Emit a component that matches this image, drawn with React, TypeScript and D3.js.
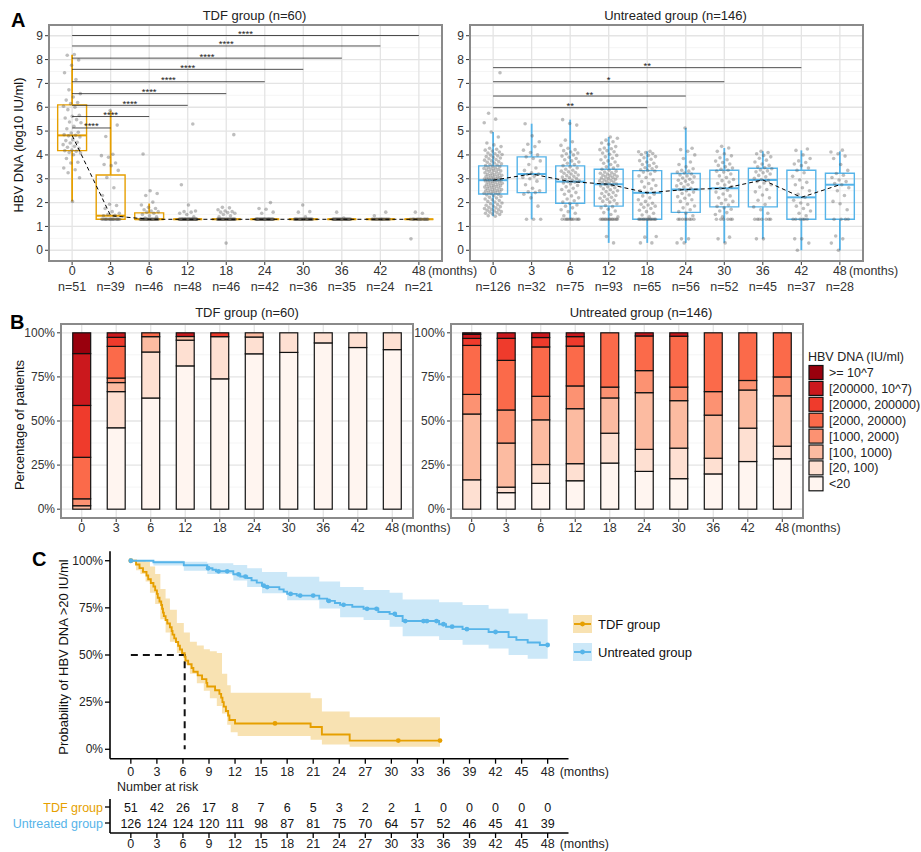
import React, { useEffect, useRef } from 'react'
import * as d3 from 'd3'

const FONT = '"Liberation Sans", Arial, Helvetica, sans-serif'
const ORANGE = '#E69F00'
const BLUE = '#56B4E9'
const ORANGE_FILL = '#F8E2B2'
const BLUE_FILL = '#CCE8F8'

// ---------- panel A: HBV DNA by visit ----------
const visits = ['0', '3', '6', '12', '18', '24', '30', '36', '42', '48']
const tdfN = [51, 39, 46, 48, 46, 42, 36, 35, 24, 21]
const untN = [126, 32, 75, 93, 65, 56, 52, 45, 37, 28]

// box stats (log10 IU/ml)
const tdfQ1 = [4.18, 1.3, 1.3, 1.3, 1.3, 1.3, 1.3, 1.3, 1.3, 1.3]
const tdfMed = [4.82, 1.45, 1.3, 1.3, 1.3, 1.3, 1.3, 1.3, 1.3, 1.3]
const tdfQ3 = [6.1, 3.16, 1.57, 1.3, 1.3, 1.3, 1.3, 1.3, 1.3, 1.3]
const tdfLo = [2.05, 1.3, 1.3, 1.3, 1.3, 1.3, 1.3, 1.3, 1.3, 1.3]
const tdfHi = [8.2, 5.86, 1.96, 1.3, 1.3, 1.3, 1.3, 1.3, 1.3, 1.3]

const untQ1 = [2.36, 2.42, 1.97, 1.85, 1.3, 1.59, 1.82, 1.82, 1.3, 1.3]
const untMed = [2.94, 3.2, 2.88, 2.77, 2.41, 2.55, 2.6, 2.95, 2.22, 2.75]
const untQ3 = [3.54, 3.92, 3.54, 3.4, 3.34, 3.22, 3.36, 3.44, 3.36, 3.23]
const untLo = [1.43, 1.3, 1.3, 0.31, 0.31, 0.31, 0.31, 0.48, 0, 0]
const untHi = [4.96, 5.31, 5.48, 4.75, 4.15, 5.13, 4.29, 4.15, 4.19, 4.15]

// patients sitting at the detection limit (<20 IU/ml plotted at 1.3)
const tdfAtLimit = [0, 18, 29, 39, 33, 37, 32, 33, 22, 18]
const untAtLimit = [0, 3, 11, 13, 13, 8, 6, 7, 6, 4]

// remaining individual values
const tdfValues = [
  [8.21, 8.18, 7.98, 7.76, 7.45, 7.16, 6.73, 6.57, 6.43, 6.3, 6.2, 6.15, 6.04, 6.0, 5.9, 5.66, 5.62, 5.55, 5.48, 5.38, 5.35,
    5.2, 5.1, 4.95, 4.92, 4.85, 4.82, 4.8, 4.75, 4.64, 4.6, 4.53, 4.5, 4.43, 4.36, 4.32,
    4.28, 4.2, 4.18, 4.15, 4.1, 4.08, 4.01, 3.85, 3.69, 3.66, 3.45, 3.38, 3.25, 3.04, 2.05],
  [1.45, 1.47, 1.5, 1.55, 1.62, 1.75, 1.88, 1.93, 2.3, 2.62, 3.05, 3.35, 3.55, 3.6, 3.66, 3.9, 3.97, 4.03, 4.77, 5.25, 5.86],
  [1.35, 1.4, 1.45, 1.5, 1.55, 1.6, 1.62, 1.65, 1.7, 1.75, 1.8, 1.9, 2.02, 2.3, 2.38, 2.5, 4.04],
  [1.4, 1.5, 1.55, 1.6, 1.62, 1.65, 1.9, 2.75, 5.3],
  [0.3, 1.4, 1.45, 1.5, 1.55, 1.58, 1.6, 1.62, 1.65, 1.7, 1.78, 1.8, 4.85],
  [1.55, 1.6, 1.72, 1.75, 2.0],
  [1.4, 1.6, 1.62, 1.9],
  [1.35, 1.6],
  [1.45, 1.6],
  [0.48, 1.55, 1.6],
]

const untValues = [
  [1.43, 1.45, 1.5, 1.52, 1.55, 1.58, 1.6, 1.62, 1.65, 1.68, 1.7, 1.72, 1.75, 1.78, 1.8, 1.83, 1.86, 1.89, 1.92, 1.95, 1.98,
    2.02, 2.05, 2.09, 2.12, 2.15, 2.19, 2.22, 2.26, 2.29, 2.32, 2.35, 2.37, 2.39, 2.41, 2.43, 2.45, 2.47, 2.49, 2.51, 2.53,
    2.55, 2.57, 2.59, 2.61, 2.63, 2.65, 2.67, 2.69, 2.71, 2.73, 2.75, 2.77, 2.79, 2.81, 2.83, 2.85, 2.87, 2.89, 2.91, 2.93,
    2.94, 2.95, 2.96, 2.97, 2.98, 2.99, 2.99, 3.01, 3.03, 3.05, 3.07, 3.09, 3.11, 3.13, 3.15, 3.17, 3.19, 3.21, 3.23, 3.25,
    3.28, 3.31, 3.33, 3.35, 3.37, 3.39, 3.41, 3.43, 3.45, 3.47, 3.5, 3.52, 3.55, 3.58, 3.6, 3.63, 3.66, 3.69, 3.72, 3.75,
    3.78, 3.81, 3.84, 3.87, 3.9, 3.93, 3.96, 3.99, 4.02, 4.05, 4.08, 4.12, 4.16, 4.2, 4.24, 4.28, 4.35, 4.42, 4.5, 4.75,
    4.96, 5.35, 5.5, 5.75, 7.45],
  [1.85, 2.2, 2.35, 2.42, 2.45, 2.5, 2.6, 2.75, 2.9, 3.0, 3.05, 3.1, 3.18, 3.2, 3.25, 3.35, 3.45, 3.6, 3.75, 3.85, 3.92,
    4.0, 4.1, 4.2, 4.35, 4.45, 4.55, 4.8, 5.31],
  [1.45, 1.55, 1.62, 1.7, 1.78, 1.85, 1.9, 1.96, 2.02, 2.08, 2.15, 2.2, 2.28, 2.35, 2.42, 2.48, 2.55, 2.6, 2.66, 2.72,
    2.78, 2.82, 2.86, 2.88, 2.91, 2.94, 2.97, 3.01, 3.04, 3.07, 3.1, 3.13, 3.16, 3.2, 3.23, 3.26, 3.29, 3.32, 3.36, 3.4,
    3.45, 3.5, 3.55, 3.6, 3.65, 3.7, 3.75, 3.8, 3.85, 3.9, 3.95, 4.0, 4.05, 4.08, 4.12, 4.18, 4.22, 4.28, 4.4, 4.55, 4.62,
    5.25, 5.32, 5.48],
  [0.31, 0.58, 1.4, 1.5, 1.58, 1.65, 1.72, 1.78, 1.83, 1.88, 1.95, 2.02, 2.06, 2.1, 2.14, 2.18, 2.22, 2.26, 2.3, 2.34,
    2.38, 2.42, 2.46, 2.5, 2.54, 2.58, 2.62, 2.66, 2.7, 2.73, 2.76, 2.78, 2.8, 2.83, 2.86, 2.89, 2.91, 2.93, 2.95, 2.98,
    3.01, 3.03, 3.06, 3.08, 3.1, 3.13, 3.15, 3.18, 3.2, 3.23, 3.25, 3.28, 3.32, 3.36, 3.4, 3.45, 3.5, 3.55, 3.6, 3.65,
    3.7, 3.75, 3.8, 3.86, 3.92, 3.98, 4.03, 4.08, 4.13, 4.18, 4.22, 4.26, 4.29, 4.35, 4.45, 4.5, 4.55, 4.62, 4.7, 4.75],
  [0.31, 0.31, 0.55, 0.58, 1.4, 1.48, 1.55, 1.62, 1.68, 1.75, 1.8, 1.85, 1.9, 1.93, 1.97, 2.05, 2.12, 2.2, 2.28, 2.35,
    2.42, 2.5, 2.58, 2.65, 2.72, 2.8, 2.88, 2.95, 3.05, 3.12, 3.2, 3.28, 3.32, 3.35, 3.38, 3.42, 3.46, 3.5, 3.55, 3.6,
    3.65, 3.7, 3.76, 3.82, 3.88, 3.93, 3.98, 4.02, 4.06, 4.1, 4.13, 4.15],
  [0.31, 0.31, 0.48, 0.48, 1.45, 1.55, 1.62, 1.7, 1.78, 1.86, 1.94, 2.05, 2.12, 2.18, 2.25, 2.32, 2.38, 2.44, 2.5, 2.55,
    2.6, 2.65, 2.7, 2.75, 2.8, 2.85, 2.9, 2.94, 2.98, 3.03, 3.08, 3.12, 3.16, 3.2, 3.24, 3.28, 3.32, 3.36, 3.42, 3.5,
    3.6, 3.7, 3.85, 4.0, 4.15, 4.22, 4.28, 5.13],
  [0.31, 0.48, 0.55, 1.4, 1.5, 1.58, 1.65, 1.72, 1.78, 1.84, 1.9, 1.96, 2.05, 2.12, 2.2, 2.28, 2.36, 2.44, 2.52, 2.6,
    2.67, 2.74, 2.8, 2.86, 2.92, 2.97, 3.05, 3.12, 3.2, 3.28, 3.32, 3.36, 3.4, 3.45, 3.5, 3.56, 3.62, 3.68, 3.74, 3.8,
    3.88, 3.96, 4.05, 4.15, 4.29, 4.36],
  [0.48, 0.48, 1.55, 1.7, 1.82, 1.92, 2.1, 2.2, 2.32, 2.45, 2.55, 2.65, 2.75, 2.82, 2.88, 2.93, 2.97, 3.02, 3.08, 3.14,
    3.2, 3.25, 3.29, 3.33, 3.37, 3.42, 3.46, 3.5, 3.56, 3.62, 3.7, 3.78, 3.86, 3.92, 3.98, 4.05, 4.1, 4.15],
  [0, 0.3, 0.48, 0.48, 1.45, 1.55, 1.65, 1.75, 1.85, 1.92, 1.98, 2.1, 2.22, 2.35, 2.5, 2.62, 2.75, 2.85, 2.95, 3.1,
    3.25, 3.35, 3.45, 3.55, 3.62, 3.68, 3.75, 3.85, 4.0, 4.19, 4.25],
  [0, 0.3, 0.48, 0.6, 1.7, 1.95, 2.05, 2.3, 2.5, 2.62, 2.75, 2.8, 2.88, 2.95, 3.05, 3.15, 3.22, 3.35, 3.6, 3.85, 3.95,
    4.05, 4.12, 4.2],
]

const tdfSigTo = ['3', '6', '12', '18', '24', '30', '36', '42', '48']
const tdfSigY = [5.13, 5.61, 6.08, 6.57, 7.07, 7.59, 8.06, 8.57, 9.01]
const tdfSigLabel = ['****', '****', '****', '****', '****', '****', '****', '****', '****']
const untSigTo = ['18', '24', '30', '42']
const untSigY = [5.98, 6.47, 7.07, 7.66]
const untSigLabel = ['**', '**', '*', '**']

// ---------- panel B: HBV DNA categories ----------
const dnaLevels = ['<20', '[20, 100)', '[100, 1000)', '[1000, 2000)', '[2000, 20000)', '[20000, 200000)', '[200000, 10^7)', '>= 10^7']
const dnaColors = ['#FFF5F0', '#FEE0D2', '#FCBBA1', '#FC9272', '#FB6A4A', '#EF3B2C', '#CB181D', '#99000D']
// rows = level (low -> high), cols = visit
const tdfCounts = [
  [0, 18, 29, 39, 34, 37, 32, 33, 22, 19],
  [0, 8, 12, 7, 11, 4, 4, 2, 2, 2],
  [1, 2, 4, 1, 0, 1, 0, 0, 0, 0],
  [2, 1, 0, 0, 0, 0, 0, 0, 0, 0],
  [12, 7, 1, 0, 0, 0, 0, 0, 0, 0],
  [15, 2, 0, 0, 1, 0, 0, 0, 0, 0],
  [15, 1, 0, 1, 0, 0, 0, 0, 0, 0],
  [6, 0, 0, 0, 0, 0, 0, 0, 0, 0],
]
const untCounts = [
  [0, 3, 11, 15, 17, 12, 9, 9, 10, 8],
  [21, 1, 8, 9, 11, 7, 9, 4, 7, 2],
  [47, 8, 19, 29, 13, 18, 14, 11, 8, 8],
  [14, 6, 10, 12, 4, 7, 4, 6, 2, 3],
  [35, 9, 21, 21, 20, 11, 15, 15, 10, 7],
  [5, 4, 4, 5, 0, 0, 0, 0, 0, 0],
  [3, 1, 2, 2, 0, 1, 1, 0, 0, 0],
  [1, 0, 0, 0, 0, 0, 0, 0, 0, 0],
]

// ---------- panel C: Kaplan-Meier ----------
const tdfKmTime = [0, 0.6, 1.0, 1.4, 1.8, 2.0, 2.3, 2.6, 2.8, 3.0, 3.1, 3.3, 3.5, 3.6, 3.7, 3.8, 4.0, 4.2, 4.5, 4.7,
  4.8, 5.0, 5.2, 5.45, 5.65, 5.9, 6.2, 6.3, 6.6, 7.0, 7.2, 7.7, 8.2, 8.7, 8.8, 9.7, 10.2, 10.4, 10.55, 10.7,
  10.95, 11.2, 11.35, 12.0, 20.7, 22.0, 25.2]
const tdfKmSurv = [1, 0.98, 0.961, 0.941, 0.922, 0.902, 0.882, 0.863, 0.843, 0.824, 0.804, 0.784, 0.765, 0.745, 0.725,
  0.706, 0.686, 0.667, 0.647, 0.627, 0.608, 0.588, 0.569, 0.549, 0.529, 0.51, 0.49, 0.47, 0.451, 0.431, 0.411, 0.392,
  0.372, 0.352, 0.333, 0.313, 0.294, 0.274, 0.25, 0.226, 0.203, 0.179, 0.155, 0.137, 0.118, 0.078, 0.046]
const tdfKmEnd = 35.6
const tdfCensor = [16.6, 30.8, 35.6]
const tdfCiTime = [0, 0.6, 1.1, 1.7, 2.2, 2.8, 3.4, 4.0, 4.5, 5.3, 6.1, 6.8, 7.6, 8.4, 9.1, 9.9, 10.5, 11.1, 11.5, 12.3, 20.7, 22.0, 25.2, 35.6]
const tdfCiUpper = [1, 1, 1, 0.995, 0.97, 0.93, 0.85, 0.8, 0.74, 0.67, 0.62, 0.57, 0.55, 0.53, 0.52, 0.51, 0.4, 0.34, 0.3, 0.3, 0.27, 0.2, 0.17, 0.17]
const tdfCiLower = [1, 0.95, 0.93, 0.89, 0.83, 0.77, 0.69, 0.62, 0.57, 0.51, 0.45, 0.4, 0.35, 0.31, 0.27, 0.23, 0.19, 0.13, 0.09, 0.07, 0.05, 0.025, 0.014, 0.014]
const tdfMedianTime = 6.2

const untKmTime = [0, 2.6, 6.1, 8.8, 9.4, 9.8, 11.8, 12.6, 13.4, 13.9, 14.5, 15.1, 15.4, 17.1, 17.6, 18.0, 19.1, 21.7,
  22.6, 23.5, 24.1, 25.5, 26.8, 28.5, 29.8, 30.5, 31.3, 35.5, 36.3, 38.2, 41.2, 43.5, 44.4, 45.7, 47.1]
const untKmSurv = [1, 0.992, 0.976, 0.96, 0.952, 0.944, 0.928, 0.916, 0.908, 0.896, 0.884, 0.868, 0.86, 0.848, 0.836,
  0.824, 0.815, 0.799, 0.787, 0.776, 0.766, 0.756, 0.745, 0.728, 0.718, 0.707, 0.68, 0.663, 0.65, 0.637, 0.622, 0.595,
  0.58, 0.566, 0.553]
const untKmEnd = 48
const untCensor = [8.9, 10.1, 11.1, 12.4, 13.2, 15.3, 15.7, 18.4, 19.5, 21.0, 22.8, 24.5, 27.2, 28.3, 30.4, 31.6, 33.7,
  34.1, 35.2, 36.0, 37.0, 38.7, 42.0, 48.0]
const untCiTime = [0, 2.6, 6.1, 8.8, 11.8, 13.4, 15.1, 18.0, 21.7, 24.1, 26.8, 29.8, 31.3, 35.5, 38.2, 41.2, 43.5, 45.7, 48]
const untCiUpper = [1, 1, 0.995, 0.986, 0.977, 0.96, 0.94, 0.915, 0.89, 0.86, 0.845, 0.83, 0.795, 0.78, 0.765, 0.745, 0.72, 0.69, 0.67]
const untCiLower = [1, 0.975, 0.947, 0.93, 0.895, 0.86, 0.827, 0.79, 0.747, 0.7, 0.685, 0.65, 0.6, 0.58, 0.555, 0.535, 0.5, 0.48, 0.46]

const riskTimes = [0, 3, 6, 9, 12, 15, 18, 21, 24, 27, 30, 33, 36, 39, 42, 45, 48]
const tdfRisk = [51, 42, 26, 17, 8, 7, 6, 5, 3, 2, 2, 1, 0, 0, 0, 0, 0]
const untRisk = [126, 124, 124, 120, 111, 98, 87, 81, 75, 70, 64, 57, 52, 46, 45, 41, 39]

// ---------------------------------------------------------------

type Sel = d3.Selection<any, unknown, null, undefined>

function txt(g: Sel, x: number, y: number, s: string, size = 12, anchor = 'middle', fill = '#333') {
  return g.append('text').attr('x', x).attr('y', y).attr('font-size', size)
    .attr('text-anchor', anchor).attr('fill', fill).text(s)
}

function gridFrame(g: Sel, left: number, right: number, top: number, bottom: number,
  xs: number[], yMajor: number[], yMinor: number[]) {
  g.selectAll(null).data(yMinor).join('line')
    .attr('x1', left).attr('x2', right).attr('y1', (d) => d).attr('y2', (d) => d)
    .attr('stroke', '#f3f3f3').attr('stroke-width', 0.8)
  g.selectAll(null).data(yMajor).join('line')
    .attr('x1', left).attr('x2', right).attr('y1', (d) => d).attr('y2', (d) => d)
    .attr('stroke', '#e4e4e4').attr('stroke-width', 1.3)
  g.selectAll(null).data(xs).join('line')
    .attr('x1', (d) => d).attr('x2', (d) => d).attr('y1', top).attr('y2', bottom)
    .attr('stroke', '#e4e4e4').attr('stroke-width', 1.3)
}

function boxPanel(svg: Sel, o: any) {
  const g = svg.append('g')
  const x = d3.scalePoint<string>().domain(visits).range([o.left, o.right]).padding(0.6)
  const y = d3.scaleLinear().domain([-0.45, 9.45]).range([o.bottom, o.top])
  const step = x.step()
  const bw = step * 0.75
  const jw = step * 0.24

  gridFrame(g, o.left, o.right, o.top, o.bottom, visits.map((v) => x(v)!),
    d3.range(0, 10).map(y), d3.range(0.5, 9.5, 1).map(y))

  // boxes
  visits.forEach((v, i) => {
    const cx = x(v)!
    const bg = g.append('g').attr('stroke', o.color).attr('fill', 'none')
    bg.append('line').attr('x1', cx).attr('x2', cx).attr('y1', y(o.hi[i])).attr('y2', y(o.q3[i])).attr('stroke-width', 1.8)
    bg.append('line').attr('x1', cx).attr('x2', cx).attr('y1', y(o.q1[i])).attr('y2', y(o.lo[i])).attr('stroke-width', 1.8)
    bg.append('path')
      .attr('d', `M${cx - bw / 2},${y(o.q3[i])}H${cx + bw / 2}V${y(o.q1[i])}H${cx - bw / 2}Z`)
      .attr('stroke-width', 1.4)
    bg.append('line').attr('x1', cx - bw / 2).attr('x2', cx + bw / 2)
      .attr('y1', y(o.med[i])).attr('y2', y(o.med[i])).attr('stroke-width', 2)
  })

  // jittered points
  visits.forEach((v, i) => {
    const vals = [...Array(o.atLimit[i]).fill(1.3), ...o.values[i]]
    const cx = x(v)!
    g.append('g').selectAll('circle').data(vals).join('circle')
      .attr('cx', (d, k) => cx + ((((k + 1) * 0.6180339 + i * 0.37) % 1) - 0.5) * 2 * jw)
      .attr('cy', (d) => y(d))
      .attr('r', 1.8)
      .attr('fill', '#555')
      .attr('fill-opacity', 0.38)
  })

  // median trend
  g.append('path')
    .datum(visits.map((v, i) => [x(v)!, y(o.med[i])] as [number, number]))
    .attr('d', d3.line())
    .attr('fill', 'none').attr('stroke', '#000').attr('stroke-width', 1)
    .attr('stroke-dasharray', '4,3')

  // significance brackets
  o.sigTo.forEach((to: string, i: number) => {
    const yy = y(o.sigY[i])
    g.append('line').attr('x1', x('0')!).attr('x2', x(to)!).attr('y1', yy).attr('y2', yy)
      .attr('stroke', '#222').attr('stroke-width', 0.8)
    txt(g, (x('0')! + x(to)!) / 2, yy + 1.5, o.sigLabel[i], 9.5, 'middle', '#222')
  })

  // frame
  g.append('rect').attr('x', o.left).attr('y', o.top).attr('width', o.right - o.left).attr('height', o.bottom - o.top)
    .attr('fill', 'none').attr('stroke', '#8a8a8a').attr('stroke-width', 2)

  // y axis
  d3.range(0, 10).forEach((t) => {
    g.append('line').attr('x1', o.left - 4).attr('x2', o.left - 1).attr('y1', y(t)).attr('y2', y(t)).attr('stroke', '#333')
    txt(g, o.left - 6, y(t) + 4.2, String(t), 12, 'end')
  })
  // x axis
  visits.forEach((v, i) => {
    const cx = x(v)!
    g.append('line').attr('x1', cx).attr('x2', cx).attr('y1', o.bottom + 1).attr('y2', o.bottom + 4).attr('stroke', '#333')
    txt(g, cx, o.bottom + 14, v, 12.5)
    txt(g, cx, o.bottom + 30, 'n=' + o.ns[i], 12.5)
  })
  txt(g, x('48')! + 9, o.bottom + 14, '(months)', 12.5, 'start')
  txt(g, (o.left + o.right) / 2 + 9, o.top - 5, o.title, 13, 'middle', '#222')
}

function barPanel(svg: Sel, o: any) {
  const g = svg.append('g')
  const x = d3.scalePoint<string>().domain(visits).range([o.left, o.right]).padding(0.6)
  const y = d3.scaleLinear().domain([-0.05, 1.05]).range([o.bottom, o.top])
  const bw = x.step() * 0.52
  const pct = [0, 0.25, 0.5, 0.75, 1]

  gridFrame(g, o.left, o.right, o.top, o.bottom, visits.map((v) => x(v)!),
    pct.map(y), [0.125, 0.375, 0.625, 0.875].map(y))

  visits.forEach((v, j) => {
    const total = d3.sum(o.counts, (row: number[]) => row[j])
    let acc = 0
    o.counts.forEach((row: number[], k: number) => {
      const c = row[j]
      if (!c) return
      const y0 = acc / total
      const y1 = (acc + c) / total
      acc += c
      g.append('rect')
        .attr('x', x(v)! - bw / 2).attr('y', y(y1)).attr('width', bw).attr('height', y(y0) - y(y1))
        .attr('fill', dnaColors[k]).attr('stroke', '#111').attr('stroke-width', 1.2)
    })
  })

  g.append('rect').attr('x', o.left).attr('y', o.top).attr('width', o.right - o.left).attr('height', o.bottom - o.top)
    .attr('fill', 'none').attr('stroke', '#8a8a8a').attr('stroke-width', 2)

  pct.forEach((t) => {
    g.append('line').attr('x1', o.left - 4).attr('x2', o.left - 1).attr('y1', y(t)).attr('y2', y(t)).attr('stroke', '#333')
    txt(g, o.left - 6, y(t) + 4.2, `${t * 100}%`, 12, 'end')
  })
  visits.forEach((v) => {
    const cx = x(v)!
    g.append('line').attr('x1', cx).attr('x2', cx).attr('y1', o.bottom + 1).attr('y2', o.bottom + 4).attr('stroke', '#333')
    txt(g, cx, o.bottom + 14, v, 12.5)
  })
  txt(g, x('48')! + 9, o.bottom + 14, '(months)', 12.5, 'start')
  txt(g, (o.left + o.right) / 2 + o.titleShift, o.top - 7, o.title, 13, 'middle', '#222')
}

function stepAt(times: number[], vals: number[], t: number) {
  return vals[Math.max(0, d3.bisectRight(times, t) - 1)]
}

function kmPanel(svg: Sel) {
  const g = svg.append('g')
  const x = d3.scaleLinear().domain([-2.4, 50.4]).range([110, 568.5])
  const y = d3.scaleLinear().domain([-0.05, 1.05]).range([758.7, 551.3])
  const left = 110
  const right = 568.5

  const groups = [
    { time: tdfKmTime, surv: tdfKmSurv, end: tdfKmEnd, censor: tdfCensor, ciT: tdfCiTime, up: tdfCiUpper, lo: tdfCiLower, color: ORANGE, fill: ORANGE_FILL },
    { time: untKmTime, surv: untKmSurv, end: untKmEnd, censor: untCensor, ciT: untCiTime, up: untCiUpper, lo: untCiLower, color: BLUE, fill: BLUE_FILL },
  ]

  groups.forEach((s) => {
    const band = d3.area<number>().curve(d3.curveStepAfter)
      .x((d, i) => x(s.ciT[i])).y0((d, i) => y(s.lo[i])).y1((d, i) => y(s.up[i]))
    g.append('path').datum(s.ciT).attr('d', band).attr('fill', s.fill).attr('stroke', 'none')
  })

  // median survival of TDF group
  g.append('path')
    .attr('d', `M${x(0)},${y(0.5)}H${x(tdfMedianTime)}V${y(0)}`)
    .attr('fill', 'none').attr('stroke', '#111').attr('stroke-width', 2).attr('stroke-dasharray', '7,5')

  groups.forEach((s) => {
    const pts: [number, number][] = s.time.map((t, i) => [x(t), y(s.surv[i])])
    pts.push([x(s.end), y(s.surv[s.surv.length - 1])])
    g.append('path').datum(pts).attr('d', d3.line().curve(d3.curveStepAfter))
      .attr('fill', 'none').attr('stroke', s.color).attr('stroke-width', 1.9)
    g.append('circle').attr('cx', x(0)).attr('cy', y(1)).attr('r', 2.4).attr('fill', s.color)
    s.censor.forEach((c) => {
      g.append('circle').attr('cx', x(c)).attr('cy', y(stepAt(s.time, s.surv, c))).attr('r', 2.4).attr('fill', s.color)
    })
  })

  // axes
  g.append('line').attr('x1', left).attr('x2', left).attr('y1', y(1.05)).attr('y2', y(-0.05)).attr('stroke', '#000').attr('stroke-width', 1.6)
  g.append('line').attr('x1', left).attr('x2', right).attr('y1', y(-0.05)).attr('y2', y(-0.05)).attr('stroke', '#000').attr('stroke-width', 1.6)
  ;[0, 0.25, 0.5, 0.75, 1].forEach((t) => {
    g.append('line').attr('x1', left - 5).attr('x2', left).attr('y1', y(t)).attr('y2', y(t)).attr('stroke', '#000').attr('stroke-width', 1.3)
    txt(g, left - 7, y(t) + 4.2, `${t * 100}%`, 12, 'end', '#222')
  })
  riskTimes.forEach((t) => {
    g.append('line').attr('x1', x(t)).attr('x2', x(t)).attr('y1', y(-0.05)).attr('y2', y(-0.05) + 5).attr('stroke', '#000').attr('stroke-width', 1.3)
    txt(g, x(t), 775.5, String(t), 12.5, 'middle', '#222')
  })
  txt(g, x(48) + 12, 775.5, '(months)', 12.5, 'start', '#222')

  // legend
  const legend = [{ label: 'TDF group', color: ORANGE, fill: ORANGE_FILL, cy: 624 }, { label: 'Untreated group', color: BLUE, fill: BLUE_FILL, cy: 652 }]
  legend.forEach((l) => {
    g.append('rect').attr('x', 573).attr('y', l.cy - 9).attr('width', 19).attr('height', 18).attr('fill', l.fill)
    g.append('line').attr('x1', 574).attr('x2', 591).attr('y1', l.cy).attr('y2', l.cy).attr('stroke', l.color).attr('stroke-width', 1.9)
    g.append('circle').attr('cx', 582.5).attr('cy', l.cy).attr('r', 2.4).attr('fill', l.color)
    txt(g, 598, l.cy + 4.5, l.label, 13, 'start', '#111')
  })

  // number at risk table
  txt(g, 117, 791, 'Number at risk', 12.5, 'start', '#222')
  const rows = [{ label: 'TDF group', vals: tdfRisk, color: ORANGE, cy: 807 }, { label: 'Untreated group', vals: untRisk, color: BLUE, cy: 823 }]
  const tTop = 799
  const tBottom = 833
  g.append('line').attr('x1', left).attr('x2', left).attr('y1', tTop).attr('y2', tBottom).attr('stroke', '#000').attr('stroke-width', 1.6)
  g.append('line').attr('x1', left).attr('x2', right).attr('y1', tBottom).attr('y2', tBottom).attr('stroke', '#000').attr('stroke-width', 1.6)
  rows.forEach((r) => {
    g.append('line').attr('x1', left - 5).attr('x2', left).attr('y1', r.cy).attr('y2', r.cy).attr('stroke', '#000').attr('stroke-width', 1.3)
    txt(g, left - 7, r.cy + 4.5, r.label, 12.5, 'end', r.color)
    r.vals.forEach((v, i) => txt(g, x(riskTimes[i]), r.cy + 4.5, String(v), 12.5, 'middle', '#111'))
  })
  riskTimes.forEach((t) => {
    g.append('line').attr('x1', x(t)).attr('x2', x(t)).attr('y1', tBottom).attr('y2', tBottom + 5).attr('stroke', '#000').attr('stroke-width', 1.3)
    txt(g, x(t), 847.5, String(t), 12.5, 'middle', '#222')
  })
  txt(g, x(48) + 12, 847.5, '(months)', 12.5, 'start', '#222')

  g.append('text').attr('transform', 'translate(68,657) rotate(-90)').attr('text-anchor', 'middle')
    .attr('font-size', 13).attr('fill', '#111').text('Probability of HBV DNA >20 IU/ml')
}

export default function App() {
  const svgRef = useRef<SVGSVGElement>(null)

  useEffect(() => {
    const svg = d3.select(svgRef.current) as unknown as Sel
    svg.selectAll('*').remove()
    svg.append('rect').attr('width', 921).attr('height', 852).attr('fill', '#fff')

    // A
    boxPanel(svg, {
      left: 49, right: 442, top: 25, bottom: 261, color: ORANGE, title: 'TDF group (n=60)', ns: tdfN,
      q1: tdfQ1, med: tdfMed, q3: tdfQ3, lo: tdfLo, hi: tdfHi, atLimit: tdfAtLimit, values: tdfValues,
      sigTo: tdfSigTo, sigY: tdfSigY, sigLabel: tdfSigLabel,
    })
    boxPanel(svg, {
      left: 470, right: 863, top: 25, bottom: 261, color: BLUE, title: 'Untreated group (n=146)', ns: untN,
      q1: untQ1, med: untMed, q3: untQ3, lo: untLo, hi: untHi, atLimit: untAtLimit, values: untValues,
      sigTo: untSigTo, sigY: untSigY, sigLabel: untSigLabel,
    })
    svg.append('text').attr('transform', 'translate(23,145) rotate(-90)').attr('text-anchor', 'middle')
      .attr('font-size', 13).attr('fill', '#111').text('HBV DNA (log10 IU/ml)')

    // B
    barPanel(svg, { left: 61, right: 413, top: 324, bottom: 518, counts: tdfCounts, title: 'TDF group (n=60)', titleShift: 10 })
    barPanel(svg, { left: 451, right: 803, top: 324, bottom: 518, counts: untCounts, title: 'Untreated group (n=146)', titleShift: 14 })
    svg.append('text').attr('transform', 'translate(24,425) rotate(-90)').attr('text-anchor', 'middle')
      .attr('font-size', 13).attr('fill', '#111').text('Percentage of patients')

    // legend B
    const lg = svg.append('g')
    txt(lg, 808, 361, 'HBV DNA (IU/ml)', 12.5, 'start', '#222')
    dnaLevels.slice().reverse().forEach((lab, i) => {
      const k = dnaLevels.length - 1 - i
      const ty = 365.5 + i * 15.9
      lg.append('rect').attr('x', 809).attr('y', ty).attr('width', 14).attr('height', 14)
        .attr('fill', dnaColors[k]).attr('stroke', '#111').attr('stroke-width', 1.2)
      txt(lg, 829, ty + 11.5, lab, 12.5, 'start', '#222')
    })

    // C
    kmPanel(svg)

    // panel letters
    ;[['A', 11, 27], ['B', 10, 329], ['C', 32, 566]].forEach(([l, lx, ly]) => {
      svg.append('text').attr('x', lx).attr('y', ly).attr('font-size', 20).attr('font-weight', 'bold')
        .attr('fill', '#000').text(l as string)
    })
  }, [])

  return (
    <svg
      ref={svgRef}
      width={921}
      height={852}
      style={{ position: 'absolute', left: 0, top: 0, fontFamily: FONT }}
    />
  )
}
